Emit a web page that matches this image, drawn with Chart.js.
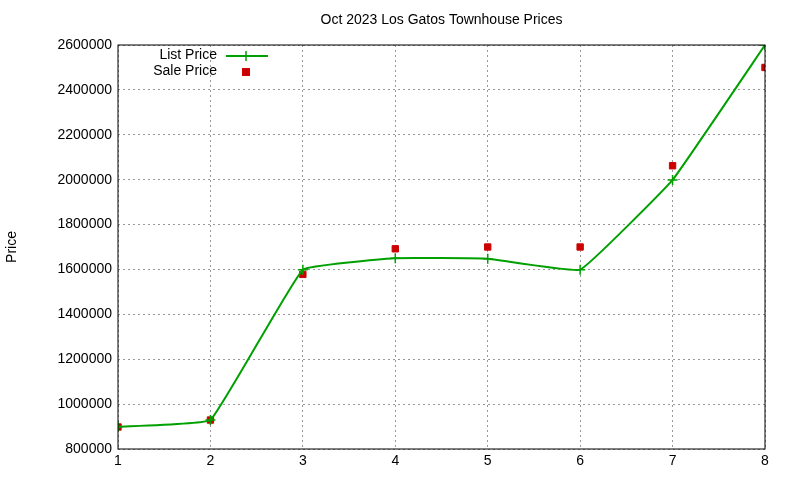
<!DOCTYPE html>
<html><head><meta charset="utf-8">
<script src="https://cdn.jsdelivr.net/npm/chart.js@4"></script>
<style>html,body{margin:0;padding:0;background:#fff}#w{width:800px;height:480px}</style>
</head><body><div id="w"><canvas id="c"></canvas></div>
<script>
const months = [1,2,3,4,5,6,7,8];
const listPrice = [899000, 929000, 1599000, 1650000, 1648000, 1599000, 1999000, 2600000];
const salePrice = [898000, 929000, 1578000, 1692000, 1700000, 1700000, 2062000, 2500000];
const yTicks = [800000,1000000,1200000,1400000,1600000,1800000,2000000,2200000,2400000,2600000];
const FONT = 'Liberation Sans, Arial, sans-serif';
const deco = {
  id:'deco',
  afterDraw(ch){
    const c=ch.ctx, a=ch.chartArea;
    c.save();
    c.strokeStyle='#000';c.lineWidth=1;c.strokeRect(a.left,a.top,a.right-a.left,a.bottom-a.top);
    c.fillStyle='#000';c.font='14px '+FONT;c.textAlign='center';c.textBaseline='middle';
    c.fillText('Oct 2023 Los Gatos Townhouse Prices',(a.left+a.right)/2,20);
    c.save();c.translate(12,(a.top+a.bottom)/2);c.rotate(-Math.PI/2);c.fillText('Price',0,0);c.restore();
    c.textAlign='right';
    c.fillText('List Price',217,55);c.fillText('Sale Price',217,71);
    c.strokeStyle='#00a000';c.lineWidth=2;
    c.beginPath();c.moveTo(226,56);c.lineTo(268,56);c.stroke();
    c.lineWidth=1.5;c.beginPath();c.moveTo(246,51);c.lineTo(246,61);c.moveTo(241,56);c.lineTo(251,56);c.stroke();
    c.fillStyle='#cc0000';c.fillRect(242,68,8,8);
    c.restore();
  }
};
const gridOpt={color:'#999',drawTicks:false};
const borderOpt={display:false,dash:[2,3]};
new Chart(document.getElementById('c'),{
  type:'line',
  data:{datasets:[
    {label:'List Price',data:months.map((m,i)=>({x:m,y:listPrice[i]})),borderColor:'#00a000',backgroundColor:'#00a000',borderWidth:2,tension:0.08,pointStyle:'cross',pointRadius:5,pointBorderWidth:1.5},
    {label:'Sale Price',data:months.map((m,i)=>({x:m,y:salePrice[i]})),showLine:false,borderColor:'#cc0000',backgroundColor:'#cc0000',pointStyle:'rect',pointRadius:4.5}
  ]},
  options:{responsive:true,maintainAspectRatio:false,animation:false,
    layout:{padding:{top:45,right:35,left:0,bottom:0}},
    plugins:{legend:{display:false},title:{display:false},tooltip:{enabled:false}},
    scales:{
      x:{type:'linear',min:1,max:8,afterFit(s){s.height=31;},
        ticks:{stepSize:1,color:'#000',font:{family:FONT,size:14},padding:4},
        grid:gridOpt,border:borderOpt},
      y:{min:800000,max:2600000,afterFit(s){s.width=118;},
        afterBuildTicks(s){s.ticks=yTicks.map(v=>({value:v}));},
        ticks:{color:'#000',font:{family:FONT,size:14},padding:6,callback:v=>String(v)},
        grid:gridOpt,border:borderOpt}
    }},
  plugins:[deco]
});
</script></body></html>
